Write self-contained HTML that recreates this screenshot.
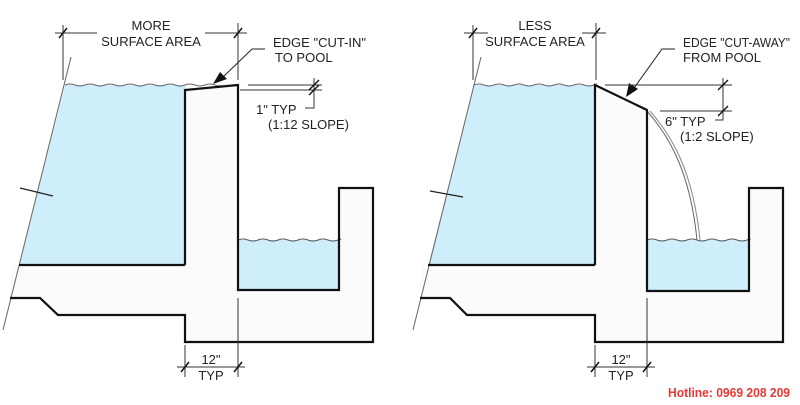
<!DOCTYPE html>
<html><head><meta charset="utf-8"><style>
html,body{margin:0;padding:0;background:#fff;width:800px;height:405px;overflow:hidden}
svg{display:block}
text{font-family:"Liberation Sans",sans-serif;font-size:13px;fill:#222}
</style></head><body>
<svg width="800" height="405" viewBox="0 0 800 405" xmlns="http://www.w3.org/2000/svg">
<!-- LEFT PANEL -->
<polygon points="19,265 185,265 185,90 238,85 238,290 339,290 339,188 373,188 373,342 185,342 185,315 58,315 40,298 10,298 12,265" fill="#fbfbfb"/>
<polygon points="65,85 185,85 185,265 19,265" fill="#cdeefa"/>
<rect x="238" y="240" width="101" height="51" fill="#cdeefa"/>
<line x1="71" y1="57" x2="3" y2="330" stroke="#666" stroke-width="1"/>
<path d="M65,85 q5,-2 10,0 t10,0 t10,0 t10,0 t10,0 t10,0 t10,0 t10,0 t10,0 t10,0 t10,0 t10,0 t10,0 t10,0 t10,0 t5,0" fill="none" stroke="#666" stroke-width="1"/>
<path d="M238,240 q5,-2 10,0 t10,0 t10,0 t10,0 t10,0 t10,0 t10,0 t10,0 t10,0 t10,0 t1,0" fill="none" stroke="#555" stroke-width="1"/>
<polyline points="185,265 19,265" fill="none" stroke="#111" stroke-width="2.2"/>
<polyline points="185,265 185,90 238,85 238,290 339,290 339,188 373,188 373,342 185,342 185,315 58,315 40,298 10,298" fill="none" stroke="#111" stroke-width="2.2"/>
<line x1="20" y1="188" x2="53" y2="196" stroke="#222" stroke-width="1.2"/>
<!-- dims left -->
<line x1="55" y1="33" x2="97" y2="33" stroke="#333"/><line x1="205" y1="33" x2="247" y2="33" stroke="#333"/>
<line x1="63" y1="25" x2="63" y2="80" stroke="#333"/><line x1="238" y1="23" x2="238" y2="80" stroke="#333"/>
<line x1="59" y1="38" x2="67" y2="28" stroke="#111" stroke-width="1.5"/><line x1="234" y1="38" x2="242" y2="28" stroke="#111" stroke-width="1.5"/>
<text x="151" y="30" text-anchor="middle">MORE</text>
<text x="151" y="46" text-anchor="middle">SURFACE AREA</text>
<text x="273" y="47">EDGE "CUT-IN"</text>
<text x="275" y="62">TO POOL</text>
<polyline points="265,49 252,49 222,78" fill="none" stroke="#222"/>
<polygon points="213,84 220,72 227,79" fill="#111"/>
<line x1="248" y1="85" x2="322" y2="85" stroke="#333"/><line x1="240" y1="90" x2="322" y2="90" stroke="#333"/>
<polyline points="314,78 314,108 305,108" fill="none" stroke="#333"/>
<line x1="309" y1="90" x2="319" y2="80" stroke="#111" stroke-width="1.3"/><line x1="309" y1="95" x2="319" y2="85" stroke="#111" stroke-width="1.3"/>
<text x="256" y="114">1" TYP</text>
<text x="268" y="129">(1:12 SLOPE)</text>
<line x1="185" y1="345" x2="185" y2="377" stroke="#333"/><line x1="238" y1="298" x2="238" y2="377" stroke="#333"/>
<line x1="177" y1="367" x2="245" y2="367" stroke="#333"/>
<line x1="181" y1="372" x2="189" y2="362" stroke="#111" stroke-width="1.5"/><line x1="234" y1="372" x2="242" y2="362" stroke="#111" stroke-width="1.5"/>
<text x="211" y="364" text-anchor="middle">12"</text>
<text x="211" y="380" text-anchor="middle">TYP</text>
<!-- RIGHT PANEL -->
<polygon points="428,265 595,265 595,85 647,110 647,291 749,291 749,188 783,188 783,342 595,342 595,315 467,315 450,298 420,298 422,265" fill="#fbfbfb"/>
<polygon points="474,85 595,85 595,265 428,265" fill="#cdeefa"/>
<rect x="647" y="240" width="102" height="51" fill="#cdeefa"/>
<line x1="481" y1="57" x2="413" y2="330" stroke="#666" stroke-width="1"/>
<path d="M474,85 q5,-2 10,0 t10,0 t10,0 t10,0 t10,0 t10,0 t10,0 t10,0 t10,0 t10,0 t10,0 t10,0 t1,0" fill="none" stroke="#666" stroke-width="1"/>
<path d="M647,240 q5,-2 10,0 t10,0 t10,0 t10,0 t10,0 t10,0 t10,0 t10,0 t10,0 t10,0 t2,0" fill="none" stroke="#555" stroke-width="1"/>
<path d="M647,111 C668,135 690,170 697,240" fill="none" stroke="#666" stroke-width="1"/>
<path d="M650,111 C671,135 693,170 700,240" fill="none" stroke="#888" stroke-width="1"/>
<polyline points="595,265 428,265" fill="none" stroke="#111" stroke-width="2.2"/>
<polyline points="595,265 595,85 647,110 647,291 749,291 749,188 783,188 783,342 595,342 595,315 467,315 450,298 420,298" fill="none" stroke="#111" stroke-width="2.2"/>
<line x1="430" y1="191" x2="463" y2="197" stroke="#222" stroke-width="1.2"/>
<line x1="464" y1="33" x2="488" y2="33" stroke="#333"/><line x1="582" y1="33" x2="606" y2="33" stroke="#333"/>
<line x1="473" y1="25" x2="473" y2="80" stroke="#333"/><line x1="596" y1="23" x2="596" y2="80" stroke="#333"/>
<line x1="469" y1="38" x2="477" y2="28" stroke="#111" stroke-width="1.5"/><line x1="592" y1="38" x2="600" y2="28" stroke="#111" stroke-width="1.5"/>
<text x="535" y="30" text-anchor="middle">LESS</text>
<text x="535" y="46" text-anchor="middle">SURFACE AREA</text>
<text x="683" y="47" textLength="107" lengthAdjust="spacingAndGlyphs">EDGE "CUT-AWAY"</text>
<text x="683" y="62">FROM POOL</text>
<polyline points="675,49 662,49 634,88" fill="none" stroke="#222"/>
<polygon points="626,97 629,83 638,89" fill="#111"/>
<line x1="605" y1="85" x2="732" y2="85" stroke="#333"/><line x1="660" y1="111" x2="732" y2="111" stroke="#333"/>
<polyline points="723,78 723,120 715,120" fill="none" stroke="#333"/>
<line x1="718" y1="90" x2="728" y2="80" stroke="#111" stroke-width="1.3"/><line x1="718" y1="116" x2="728" y2="106" stroke="#111" stroke-width="1.3"/>
<text x="665" y="126">6" TYP</text>
<text x="680" y="141">(1:2 SLOPE)</text>
<line x1="595" y1="345" x2="595" y2="377" stroke="#333"/><line x1="647" y1="298" x2="647" y2="377" stroke="#333"/>
<line x1="587" y1="367" x2="655" y2="367" stroke="#333"/>
<line x1="591" y1="372" x2="599" y2="362" stroke="#111" stroke-width="1.5"/><line x1="643" y1="372" x2="651" y2="362" stroke="#111" stroke-width="1.5"/>
<text x="621" y="364" text-anchor="middle">12"</text>
<text x="621" y="380" text-anchor="middle">TYP</text>
<text x="668" y="397" textLength="122" lengthAdjust="spacingAndGlyphs" style="font-size:13px;font-weight:bold;fill:#e53935">Hotline: 0969 208 209</text>
</svg>
</body></html>
